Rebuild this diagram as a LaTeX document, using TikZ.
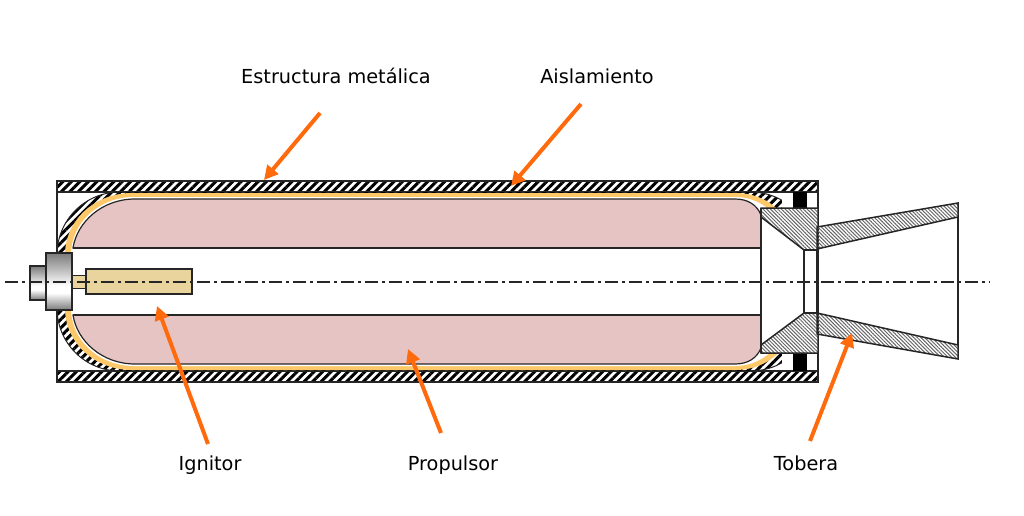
\documentclass[tikz,border=0pt]{standalone}
\usepackage{fontspec}
\setmainfont{DejaVu Sans}
\usetikzlibrary{arrows.meta,patterns.meta}

\definecolor{grainpink}{HTML}{E7C4C4}
\definecolor{linerorange}{HTML}{FDC869}
\definecolor{ignitortan}{HTML}{EAD49E}
\definecolor{calloutorange}{HTML}{FF6A0D}
\definecolor{metaldark}{HTML}{7A7A7A}

\pgfdeclareverticalshading{metalbar}{100bp}{
  color(0bp)=(metaldark); color(25bp)=(metaldark); color(40bp)=(white);
  color(46bp)=(white); color(75bp)=(metaldark); color(100bp)=(metaldark)}

\tikzset{
  label text/.style={font=\fontsize{19.3}{22}\selectfont, text=black, anchor=base},
  callout/.style={-{Triangle[length=14pt,width=14pt]}, line width=4pt, calloutorange},
  outline/.style={draw=black!85, line width=1.5pt},
  band hatch/.style={pattern={Lines[angle=45,distance=6pt,line width=3pt]}, pattern color=black},
  fine hatch/.style={pattern={Lines[angle=-45,distance=2.6pt,line width=1pt]}, pattern color=black!60},
  metal/.style={shading=metalbar},
}

\begin{document}
\begin{tikzpicture}[x=1pt,y=-1pt]
\useasboundingbox (0,0) rectangle (1024,516);

% Casing walls
\draw[outline] (57,181) rectangle (818,382);
\draw[outline, band hatch] (57,181) rectangle (818,192);
\draw[outline, band hatch] (57,371) rectangle (818,382);

% Hatched end domes
\path[band hatch] (120,192) .. controls (85,192) and (57,220) .. (57,255) -- (57,308)
  .. controls (57,343) and (85,371) .. (120,371) -- (750,371)
  .. controls (775,371) and (795,358) .. (805,338) -- (805,225)
  .. controls (795,205) and (775,192) .. (750,192) -- cycle;
\draw[line width=1pt, black!85] (120,192) .. controls (85,192) and (57,220) .. (57,255);
\draw[line width=1pt, black!85] (120,371) .. controls (85,371) and (57,343) .. (57,308);
\draw[line width=1pt, black!85] (750,192) .. controls (775,192) and (795,205) .. (805,225);
\draw[line width=1pt, black!85] (750,371) .. controls (775,371) and (795,358) .. (805,338);

% Orange liner
\fill[linerorange] (132,193) .. controls (95,193) and (65,220) .. (65,255) -- (65,308)
  .. controls (65,343) and (95,370) .. (132,370) -- (735,370)
  .. controls (760,370) and (778,358) .. (790,338) -- (790,225)
  .. controls (778,205) and (760,193) .. (735,193) -- cycle;
\fill[white] (134,197) .. controls (100,197) and (71,222) .. (71,255) -- (71,308)
  .. controls (71,341) and (100,366) .. (134,366) -- (735,366)
  .. controls (755,366) and (772,355) .. (782,338) -- (782,225)
  .. controls (772,208) and (755,197) .. (735,197) -- cycle;

% Propellant grain
\draw[outline, fill=grainpink, line width=1.2pt] (73,248) .. controls (77,222) and (102,199) .. (135,199)
  -- (735,199) .. controls (748,199) and (757,205) .. (761,215) -- (761,248) -- cycle;
\draw[outline, fill=grainpink, line width=1.2pt] (73,315) .. controls (77,341) and (102,364) .. (135,364)
  -- (735,364) .. controls (748,364) and (757,358) .. (761,348) -- (761,315) -- cycle;

% Central bore
\fill[white] (72,249) rectangle (761,314);
\draw[black!85, line width=1.2pt] (73,248) -- (761,248);
\draw[black!85, line width=1.2pt] (73,315) -- (761,315);

% Retaining blocks
\fill[white] (782,193) rectangle (817,208);
\fill[white] (782,353) rectangle (817,370);
\fill[black] (793,192) rectangle (807,208);
\fill[black] (793,353) rectangle (807,371);

% Nozzle
\fill[white] (761,208) rectangle (818,353);
\draw[outline, fine hatch] (761,208) -- (818,208) -- (818,250) -- (804,250) -- (761,217) -- cycle;
\draw[outline, fine hatch] (761,353) -- (818,353) -- (818,313) -- (804,313) -- (761,345) -- cycle;
\draw[outline] (761,208) -- (761,353);
\draw[outline] (804,250) rectangle (817,313);
\draw[outline, fine hatch] (817,227) -- (958,203) -- (958,217) -- (817,249) -- cycle;
\draw[outline, fine hatch] (817,313) -- (958,345) -- (958,359) -- (817,334) -- cycle;
\draw[outline] (958,217) -- (958,345);

% Ignitor
\draw[outline, metal] (30,266) rectangle (46,300);
\draw[outline, fill=ignitortan, line width=1pt] (72,275) rectangle (86,288);
\draw[outline, metal] (46,253) rectangle (72,310);
\draw[outline, fill=ignitortan] (86,269) rectangle (192,294);

% Centre line
\draw[black!85, line width=1.2pt, dash pattern=on 13pt off 4pt on 3pt off 4pt] (5,282) -- (990,282);

% Labels
\node[label text] (estructura) at (336,84) {Estructura metálica};
\node[label text] (aislamiento) at (597,84) {Aislamiento};
\node[label text] (ignitor) at (210,470) {Ignitor};
\node[label text] (propulsor) at (453,470) {Propulsor};
\node[label text] (tobera) at (806,470) {Tobera};

% Callout ends
\coordinate (estructura tail) at (320,113);
\coordinate (estructura head) at (264,180);
\coordinate (aislamiento tail) at (581,104);
\coordinate (aislamiento head) at (511,186);
\coordinate (ignitor tail) at (208,444);
\coordinate (ignitor head) at (157,306);
\coordinate (propulsor tail) at (441,433);
\coordinate (propulsor head) at (408,349);
\coordinate (tobera tail) at (810,441);
\coordinate (tobera head) at (852,333);

% Callouts
\draw[callout] (estructura tail) -- (estructura head);
\draw[callout] (aislamiento tail) -- (aislamiento head);
\draw[callout] (ignitor tail) -- (ignitor head);
\draw[callout] (propulsor tail) -- (propulsor head);
\draw[callout] (tobera tail) -- (tobera head);
\end{tikzpicture}
\end{document}
